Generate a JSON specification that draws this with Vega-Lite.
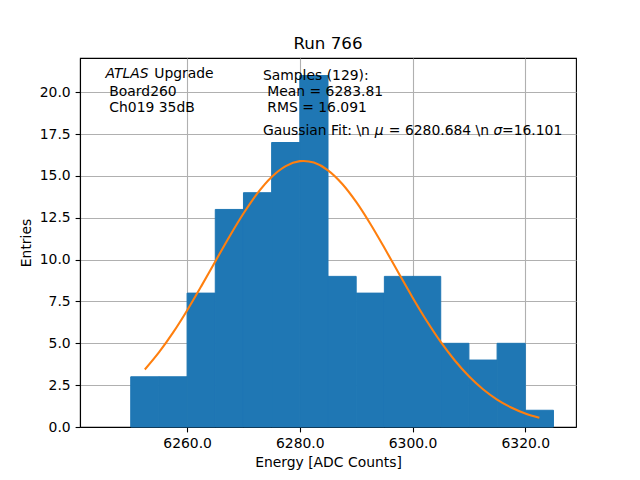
{
  "$schema": "https://vega.github.io/schema/vega-lite/v6.json",
  "width": 496,
  "height": 369,
  "autosize": {"type": "none"},
  "padding": {"left": 80, "top": 58, "right": 64, "bottom": 53},
  "background": "white",
  "title": {"text": "Run 766", "fontSize": 16.7, "font": "DejaVu Sans", "fontWeight": "normal", "color": "black", "anchor": "middle", "frame": "group", "offset": -8, "baseline": "alphabetic"},
  "config": {
    "font": "DejaVu Sans",
    "view": {"stroke": "black", "strokeWidth": 1.1},
    "axis": {
      "labelFont": "DejaVu Sans", "labelFontSize": 13.9, "labelColor": "black",
      "titleFont": "DejaVu Sans", "titleFontSize": 13.9, "titleFontWeight": "normal", "titleColor": "black",
      "domainColor": "black", "domainWidth": 1.1, "tickColor": "black", "tickWidth": 1.1, "tickSize": 4.9,
      "labelPadding": 4.9, "gridColor": "#b0b0b0", "gridWidth": 1.1, "gridOpacity": 1, "zindex": 1
    }
  },
  "datasets": {
    "bins": [
      {"bin_start": 6250, "bin_end": 6255, "entries": 3},
      {"bin_start": 6255, "bin_end": 6260, "entries": 3},
      {"bin_start": 6260, "bin_end": 6265, "entries": 8},
      {"bin_start": 6265, "bin_end": 6270, "entries": 13},
      {"bin_start": 6270, "bin_end": 6275, "entries": 14},
      {"bin_start": 6275, "bin_end": 6280, "entries": 17},
      {"bin_start": 6280, "bin_end": 6285, "entries": 21},
      {"bin_start": 6285, "bin_end": 6290, "entries": 9},
      {"bin_start": 6290, "bin_end": 6295, "entries": 8},
      {"bin_start": 6295, "bin_end": 6300, "entries": 9},
      {"bin_start": 6300, "bin_end": 6305, "entries": 9},
      {"bin_start": 6305, "bin_end": 6310, "entries": 5},
      {"bin_start": 6310, "bin_end": 6315, "entries": 4},
      {"bin_start": 6315, "bin_end": 6320, "entries": 5},
      {"bin_start": 6320, "bin_end": 6325, "entries": 1}
    ],
    "fit": [
      {"energy": 6252.5, "value": 3.436},
      {"energy": 6255.0, "value": 4.455},
      {"energy": 6257.5, "value": 5.638},
      {"energy": 6260.0, "value": 6.966},
      {"energy": 6262.5, "value": 8.403},
      {"energy": 6265.0, "value": 9.893},
      {"energy": 6267.5, "value": 11.372},
      {"energy": 6270.0, "value": 12.758},
      {"energy": 6272.5, "value": 13.973},
      {"energy": 6275.0, "value": 14.940},
      {"energy": 6277.5, "value": 15.592},
      {"energy": 6280.0, "value": 15.886},
      {"energy": 6280.684, "value": 15.9},
      {"energy": 6282.5, "value": 15.799},
      {"energy": 6285.0, "value": 15.339},
      {"energy": 6287.5, "value": 14.537},
      {"energy": 6290.0, "value": 13.450},
      {"energy": 6292.5, "value": 12.146},
      {"energy": 6295.0, "value": 10.709},
      {"energy": 6297.5, "value": 9.216},
      {"energy": 6300.0, "value": 7.742},
      {"energy": 6302.5, "value": 6.349},
      {"energy": 6305.0, "value": 5.083},
      {"energy": 6307.5, "value": 3.972},
      {"energy": 6310.0, "value": 3.031},
      {"energy": 6312.5, "value": 2.258},
      {"energy": 6315.0, "value": 1.641},
      {"energy": 6317.5, "value": 1.164},
      {"energy": 6320.0, "value": 0.807},
      {"energy": 6322.5, "value": 0.546}
    ],
    "notes": [
      {"label": "Upgrade", "xpos": 6254.17, "ypos": 21.094},
      {"label": "Board260", "xpos": 6246.2, "ypos": 20.036},
      {"label": "Ch019 35dB", "xpos": 6246.2, "ypos": 19.044},
      {"label": "Samples (129):", "xpos": 6273.45, "ypos": 20.992},
      {"label": "Mean = 6283.81", "xpos": 6274.23, "ypos": 20.036},
      {"label": "RMS = 16.091", "xpos": 6274.23, "ypos": 19.044},
      {"label": "Gaussian Fit: \\n", "xpos": 6273.45, "ypos": 17.688},
      {"label": "= 6280.684 \\n", "xpos": 6295.8, "ypos": 17.688},
      {"label": "=16.101", "xpos": 6315.88, "ypos": 17.688}
    ],
    "notesItalic": [
      {"label": "ATLAS", "xpos": 6245.52, "ypos": 21.094},
      {"label": "μ", "xpos": 6293.31, "ypos": 17.688},
      {"label": "σ", "xpos": 6314.36, "ypos": 17.688}
    ]
  },
  "layer": [
    {
      "data": {"name": "bins"},
      "mark": {"type": "rect", "color": "#1f77b4", "stroke": "#1f77b4", "strokeWidth": 1},
      "encoding": {
        "x": {"field": "bin_start", "type": "quantitative",
              "scale": {"domain": [6241, 6329], "nice": false, "zero": false, "padding": 0},
              "axis": {"title": "Energy [ADC Counts]", "values": [6260, 6280, 6300, 6320], "format": ".1f", "grid": true, "titlePadding": 5}},
        "x2": {"field": "bin_end"},
        "y": {"field": "entries", "type": "quantitative",
              "scale": {"domain": [0, 22.05], "nice": false, "padding": 0},
              "axis": {"title": "Entries", "values": [0, 2.5, 5, 7.5, 10, 12.5, 15, 17.5, 20], "format": ".1f", "grid": true, "titlePadding": 6}},
        "y2": {"datum": 0}
      }
    },
    {
      "data": {"name": "fit"},
      "mark": {"type": "line", "color": "#ff7f0e", "strokeWidth": 2.08, "interpolate": "monotone"},
      "encoding": {
        "x": {"field": "energy", "type": "quantitative"},
        "y": {"field": "value", "type": "quantitative"}
      }
    },
    {
      "mark": {"type": "rect", "color": "#1f77b4"},
      "encoding": {
        "x": {"datum": 6266.55, "type": "quantitative"},
        "x2": {"datum": 6271.52},
        "y": {"datum": 20.198, "type": "quantitative"},
        "y2": {"datum": 19.618}
      }
    },
    {
      "mark": {"type": "rule", "color": "#ff7f0e", "strokeWidth": 2.08},
      "encoding": {
        "x": {"datum": 6266.55, "type": "quantitative"},
        "x2": {"datum": 6271.52},
        "y": {"datum": 17.628, "type": "quantitative"}
      }
    },
    {
      "data": {"name": "notes"},
      "mark": {"type": "text", "align": "left", "baseline": "middle", "font": "DejaVu Sans", "fontSize": 13.9, "color": "black"},
      "encoding": {
        "x": {"field": "xpos", "type": "quantitative"},
        "y": {"field": "ypos", "type": "quantitative"},
        "text": {"field": "label"}
      }
    },
    {
      "data": {"name": "notesItalic"},
      "mark": {"type": "text", "align": "left", "baseline": "middle", "font": "DejaVu Sans", "fontSize": 13.9, "fontStyle": "italic", "color": "black"},
      "encoding": {
        "x": {"field": "xpos", "type": "quantitative"},
        "y": {"field": "ypos", "type": "quantitative"},
        "text": {"field": "label"}
      }
    }
  ]
}
